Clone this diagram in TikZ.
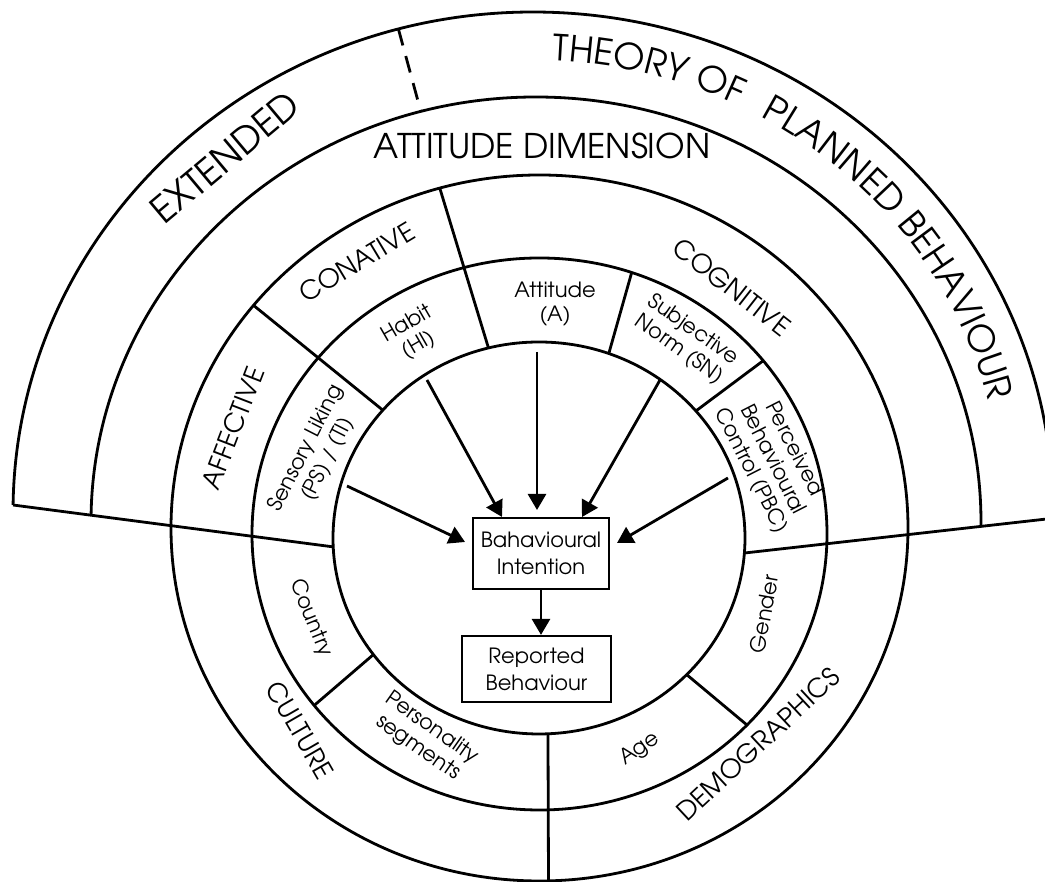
\documentclass[tikz,border=0pt]{standalone}
\usepackage{fontspec}
\setmainfont{TeX Gyre Adventor}
\usetikzlibrary{arrows.meta,calc,decorations.text}
\begin{document}
\begin{tikzpicture}[x=1pt,y=1pt,
  ringline/.style={line width=2.8pt},
  divline/.style={line width=2.8pt},
  arrowline/.style={line width=2.8pt,-{Triangle[length=16pt,width=18pt]}},
  boxnode/.style={draw,line width=2.2pt,inner sep=0pt,align=center,font=\fontsize{21}{27}\selectfont},
  lblbig/.style={font=\fontsize{37}{40}\selectfont,inner sep=0pt},
  lblmid/.style={font=\fontsize{26}{30}\selectfont,inner sep=0pt},
  lblsmall/.style={font=\fontsize{21}{24}\selectfont,inner sep=0pt,align=center},
]
\useasboundingbox (0,0) rectangle (1045,882);
\clip (0,0) rectangle (1045,882);
% centres of the rings
\coordinate (c1) at (539,344);
\coordinate (c2) at (539.5,348);
\coordinate (c3) at (539.5,354);
\coordinate (c4) at (536,360);
\coordinate (c5) at (533,370);
% full rings
\draw[ringline] (c1) ellipse[x radius=206, y radius=196];
\draw[ringline] (c2) ellipse[x radius=287.5, y radius=276];
\draw[ringline] (c3) ellipse[x radius=368.5, y radius=353];
% upper rings
\coordinate (e4L) at ($(c4)+(179:445 and 425)$);
\coordinate (e5L) at ($(c5)+(179.2:520 and 500)$);
\draw[ringline] (e4L) arc[start angle=179, end angle=-0.7, x radius=445, y radius=425];
\draw[ringline] (e5L) arc[start angle=179.2, end angle=-0.8, x radius=520, y radius=500];
% base lines
\coordinate (e1L) at ($(c1)+(182.6:206 and 196)$);
\coordinate (e1R) at ($(c1)+(-4.4:206 and 196)$);
\coordinate (baseR) at (1060,364.5);
\draw[divline] (e5L) -- (e1L);
\draw[divline] (e1R) -- (baseR);
% dashed divider
\coordinate (dA1) at ($(c5)+(105:520 and 500)$);
\coordinate (dA2) at ($(c4)+(105:445 and 425)$);
\draw[divline,dash pattern=on 17pt off 11pt] (dA1) -- (dA2);
% dividers
\coordinate (dB1) at ($(c3)+(105.7:368.5 and 353)$);
\coordinate (dB2) at ($(c1)+(104.2:206 and 196)$);
\draw[divline] (dB1) -- (dB2);
\coordinate (dC1) at ($(c3)+(140.9:368.5 and 353)$);
\coordinate (dC2) at ($(c1)+(139.3:206 and 196)$);
\draw[divline] (dC1) -- (dC2);
\coordinate (dD1) at ($(c2)+(38.9:287.5 and 276)$);
\coordinate (dD2) at ($(c1)+(40.4:206 and 196)$);
\draw[divline] (dD1) -- (dD2);
\coordinate (dE1) at ($(c2)+(71.3:287.5 and 276)$);
\coordinate (dE2) at ($(c1)+(70.2:206 and 196)$);
\draw[divline] (dE1) -- (dE2);
\coordinate (dF1) at ($(c1)+(216.5:206 and 196)$);
\coordinate (dF2) at ($(c2)+(218.4:287.5 and 276)$);
\draw[divline] (dF1) -- (dF2);
\coordinate (dG1) at ($(c1)+(272.5:206 and 196)$);
\coordinate (dG2) at ($(c3)+(271.4:368.5 and 353)$);
\draw[divline] (dG1) -- (dG2);
\coordinate (dH1) at ($(c1)+(-44.2:206 and 196)$);
\coordinate (dH2) at ($(c2)+(-43.8:287.5 and 276)$);
\draw[divline] (dH1) -- (dH2);
% boxes
\node[boxnode,minimum width=136pt,minimum height=71pt] (bi) at (541,328.5) {Bahavioural\\Intention};
\node[boxnode,minimum width=149pt,minimum height=66pt] (rb) at (536.5,213) {Reported\\Behaviour};
\draw[arrowline] (bi.south) -- (bi.south |- rb.north);
% arrows into the intention box
\coordinate (sSen) at (347,396); \coordinate (tSen) at (465,340);
\coordinate (sHab) at (427,502); \coordinate (tHab) at (502,365);
\coordinate (sAtt) at (537,530); \coordinate (tAtt) at (537,372);
\coordinate (sSN)  at (660,502); \coordinate (tSN)  at (582,365);
\coordinate (sPBC) at (728,404); \coordinate (tPBC) at (617,339);
\draw[arrowline] (sSen) -- (tSen);
\draw[arrowline] (sHab) -- (tHab);
\draw[arrowline] (sAtt) -- (tAtt);
\draw[arrowline] (sSN) -- (tSN);
\draw[arrowline] (sPBC) -- (tPBC);
% outer band labels
\node[lblbig,rotate=40] (ext) at (225,725) {EXTENDED};
\path[decorate,decoration={text along path,text align=left,
  text={|\fontsize{36}{40}\selectfont|THEORY OF}}]
  ($(c5)+(87.6:470 and 452)$) arc[start angle=87.6, end angle=50, x radius=470, y radius=452];
\path[decorate,decoration={text along path,text align=left,
  text={|\fontsize{36}{40}\selectfont|PLANNED BEHAVIOUR}}]
  ($(c5)+(61:470 and 452)$) arc[start angle=61, end angle=2, x radius=470, y radius=452];
\node[font=\fontsize{34}{38}\selectfont,inner sep=0pt] (attdim) at (542,736) {ATTITUDE DIMENSION};
% middle band labels
\node[lblmid,rotate=31] (con) at (357,620) {CONATIVE};
\node[lblmid,rotate=-38] (cog) at (732,595) {COGNITIVE};
\node[lblmid,rotate=69] (aff) at (233,454) {AFFECTIVE};
\node[lblmid,rotate=-60] (cul) at (300,152) {CULTURE};
\node[lblmid,rotate=43] (dem) at (758,138) {DEMOGRAPHICS};
% inner band labels
\node[lblsmall,rotate=63] (sen) at (317,428) {Sensory Liking\\(PS) / (TI)};
\node[lblsmall,rotate=30] (hab) at (413,547) {Habit\\(HI)};
\node[lblsmall] (att) at (555,577.5) {Attitude\\(A)};
\node[lblsmall,rotate=-35] (sn) at (686,542) {Subjective\\Norm (SN)};
\node[lblsmall,rotate=-63] (pbc) at (772,422) {Perceived\\Behavioural\\Control (PBC)};
\node[lblsmall,rotate=-68] (cty) at (311,264) {Country};
\node[lblsmall,rotate=-35] (per) at (425,144) {Personality\\segments};
\node[lblsmall,rotate=35] (age) at (640,133) {Age};
\node[lblsmall,rotate=80] (gen) at (764,268) {Gender};
\end{tikzpicture}
\end{document}
